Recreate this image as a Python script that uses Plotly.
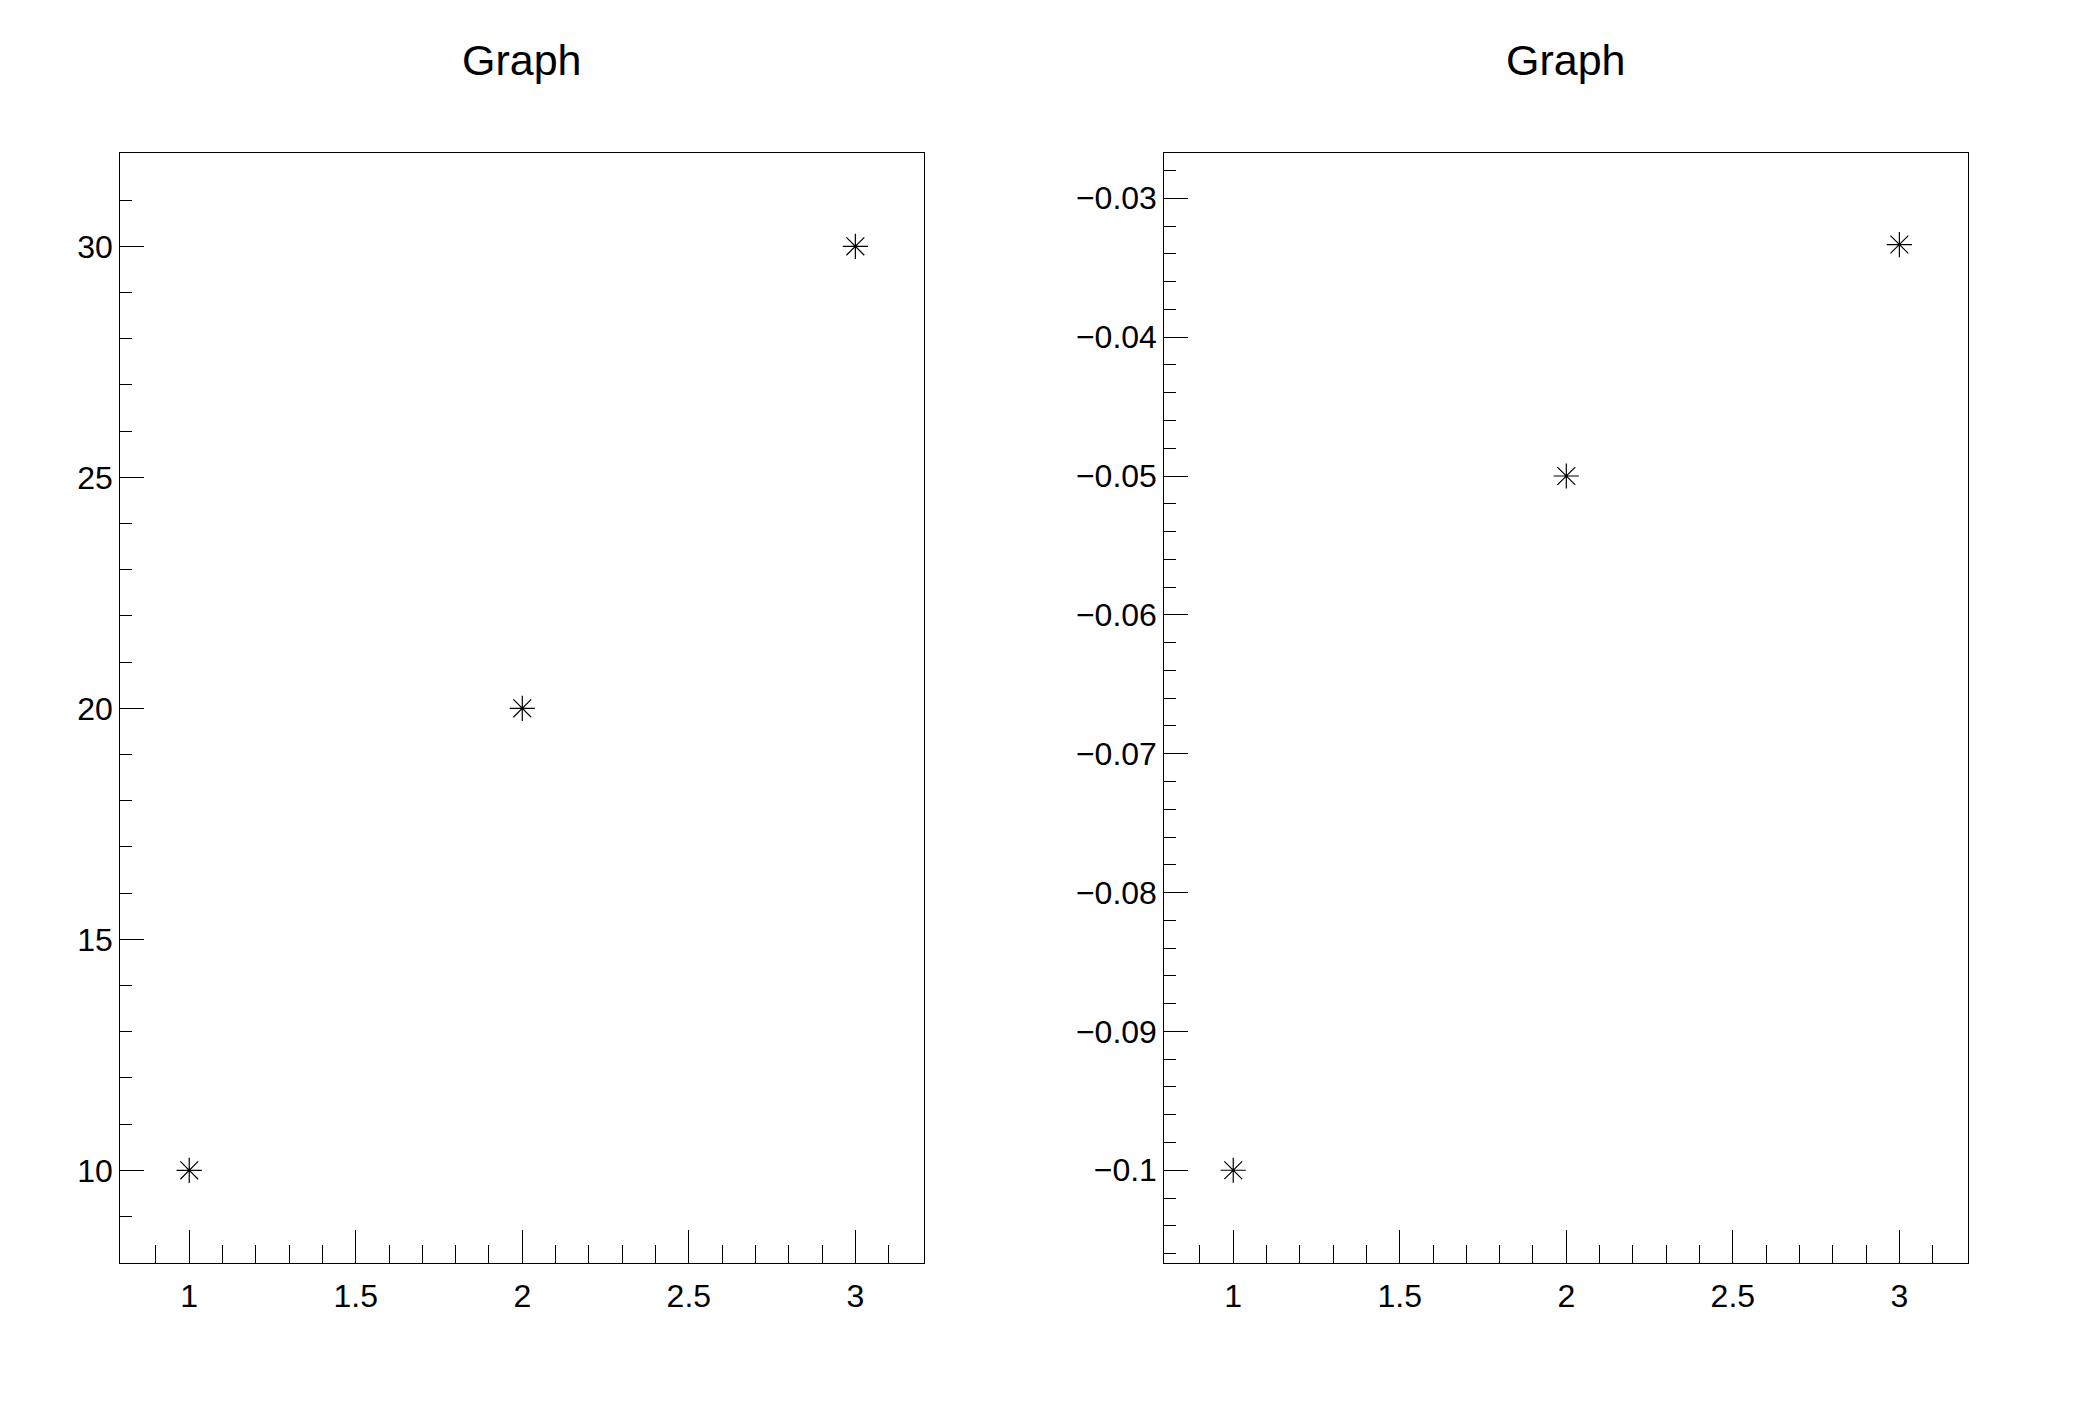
import plotly.graph_objects as go

# Data
x_vals = [1, 2, 3]
y_left = [10, 20, 30]
y_right = [-0.1, -0.05, -0.03333]
titles = ["Graph", "Graph"]
x_minor_ticks = [0.9, 1.1, 1.2, 1.3, 1.4, 1.6, 1.7, 1.8, 1.9, 2.1, 2.2, 2.3, 2.4,
                 2.6, 2.7, 2.8, 2.9, 3.1]

OFF = 8  # page body margin
W, H = 2088 - OFF, 1416 - OFF
FONT = "Liberation Sans, Arial, Helvetica, sans-serif"

def px(v):
    return (v - OFF) / W

def py(v):
    return 1 - (v - OFF) / H

fig = go.Figure()
for xa, ya, yv in (("x", "y", y_left), ("x2", "y2", y_right)):
    fig.add_trace(go.Scatter(x=x_vals, y=yv, mode="markers", xaxis=xa, yaxis=ya,
                             marker=dict(symbol="asterisk-open", size=21, color="black",
                                         line=dict(color="black", width=1.2)),
                             showlegend=False, hoverinfo="skip"))

def xaxis(domain, anchor):
    return dict(domain=domain, anchor=anchor, range=[0.793, 3.207],
                showline=True, linecolor="black", linewidth=1, mirror=True,
                showgrid=False, zeroline=False,
                ticks="inside", ticklen=33, tickwidth=1, tickcolor="black",
                tick0=0, dtick=0.5, ticklabelstandoff=4,
                tickfont=dict(family=FONT, size=32, color="black"),
                minor=dict(ticks="inside", ticklen=18, tickwidth=1, tickcolor="black",
                           tickmode="array", tickvals=x_minor_ticks, showgrid=False))

def yaxis(domain, anchor, rng, dt, mdt):
    return dict(domain=domain, anchor=anchor, range=rng,
                showline=True, linecolor="black", linewidth=1, mirror=True,
                showgrid=False, zeroline=False,
                ticks="inside", ticklen=24, tickwidth=1, tickcolor="black",
                tick0=0, dtick=dt, ticklabelstandoff=0,
                tickfont=dict(family=FONT, size=32, color="black"),
                minor=dict(ticks="inside", ticklen=12, tickwidth=1, tickcolor="black",
                           tick0=0, dtick=mdt, showgrid=False))

ydom = [py(1263.3), py(153.3)]
fig.update_layout(
    width=W, height=H,
    margin=dict(l=0, r=0, t=0, b=0),
    paper_bgcolor="white", plot_bgcolor="white",
    xaxis=xaxis([px(120.3), px(924.3)], "y"),
    yaxis=yaxis(ydom, "x", [7.987, 32.013], 5, 1),
    xaxis2=xaxis([px(1164.3), px(1968.3)], "y2"),
    yaxis2=yaxis(ydom, "x2", [-0.10670, -0.02676], 0.01, 0.002),
    annotations=[
        dict(text=titles[0], x=px(522), y=py(60), xref="paper", yref="paper",
             xanchor="center", yanchor="middle", showarrow=False,
             font=dict(family=FONT, size=43, color="black")),
        dict(text=titles[1], x=px(1566), y=py(60), xref="paper", yref="paper",
             xanchor="center", yanchor="middle", showarrow=False,
             font=dict(family=FONT, size=43, color="black")),
    ],
)

fig.write_html("out.html")
